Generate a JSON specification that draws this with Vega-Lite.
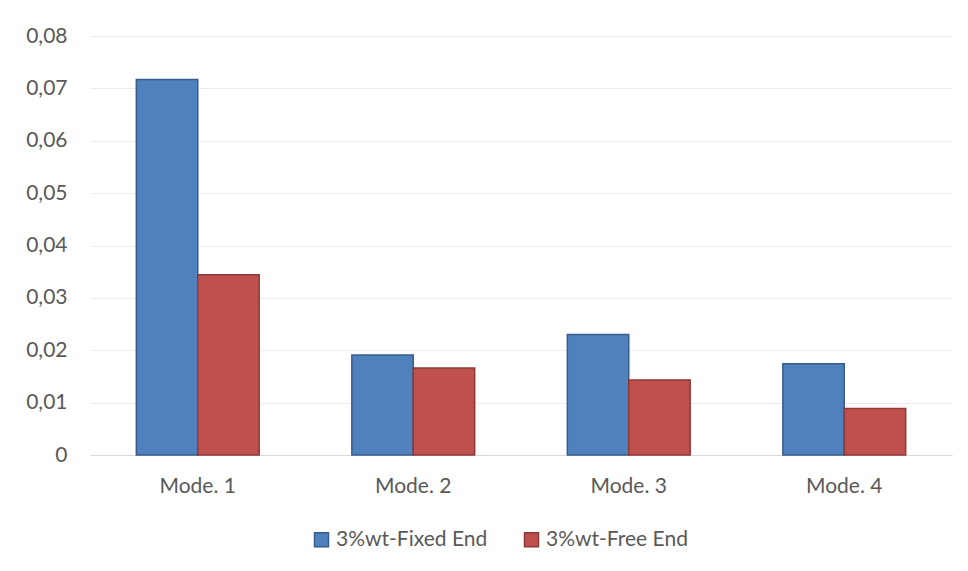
{
  "$schema": "https://vega.github.io/schema/vega-lite/v6.json",
  "autosize": "none",
  "width": 862,
  "height": 419,
  "padding": {"left": 90, "top": 36, "right": 16, "bottom": 116},
  "background": "#ffffff",
  "data": {
    "values": [
      {"mode": "Mode. 1", "series": "3%wt-Fixed End", "value": 0.0717},
      {"mode": "Mode. 1", "series": "3%wt-Free End", "value": 0.0344},
      {"mode": "Mode. 2", "series": "3%wt-Fixed End", "value": 0.0191},
      {"mode": "Mode. 2", "series": "3%wt-Free End", "value": 0.0166},
      {"mode": "Mode. 3", "series": "3%wt-Fixed End", "value": 0.0230},
      {"mode": "Mode. 3", "series": "3%wt-Free End", "value": 0.0143},
      {"mode": "Mode. 4", "series": "3%wt-Fixed End", "value": 0.0174},
      {"mode": "Mode. 4", "series": "3%wt-Free End", "value": 0.0089}
    ]
  },
  "mark": {"type": "bar", "strokeWidth": 1.5},
  "encoding": {
    "x": {
      "field": "mode",
      "type": "nominal",
      "title": null,
      "scale": {"paddingInner": 0.43, "paddingOuter": 0.215},
      "axis": {
        "labelAngle": 0,
        "labelFontSize": 21,
        "labelColor": "#595959",
        "labelPadding": 20,
        "ticks": false,
        "domainColor": "#d9d9d9",
        "domainWidth": 1
      }
    },
    "xOffset": {"field": "series", "type": "nominal"},
    "y": {
      "field": "value",
      "type": "quantitative",
      "title": null,
      "scale": {"domain": [0, 0.08], "nice": false},
      "axis": {
        "values": [0, 0.01, 0.02, 0.03, 0.04, 0.05, 0.06, 0.07, 0.08],
        "labelExpr": "datum.value == 0 ? '0' : replace(format(datum.value, '.2f'), '.', ',')",
        "labelFontSize": 21,
        "labelColor": "#595959",
        "labelPadding": 23,
        "ticks": false,
        "domain": false,
        "gridColor": "#ececec",
        "gridWidth": 1.2
      }
    },
    "color": {
      "field": "series",
      "type": "nominal",
      "title": null,
      "scale": {"domain": ["3%wt-Fixed End", "3%wt-Free End"], "range": ["#4f81bd", "#c0504d"]},
      "legend": {
        "orient": "none",
        "legendX": 221,
        "legendY": 493,
        "direction": "horizontal",
        "symbolType": "square",
        "symbolSize": 196,
        "symbolStrokeWidth": 1.5,
        "labelFontSize": 21,
        "labelColor": "#595959",
        "labelOffset": 4,
        "columnPadding": 33
      }
    },
    "stroke": {
      "field": "series",
      "type": "nominal",
      "scale": {"domain": ["3%wt-Fixed End", "3%wt-Free End"], "range": ["#385d8a", "#8c3836"]},
      "legend": null
    }
  },
  "config": {
    "font": "Lato",
    "view": {"stroke": null},
    "legend": {"symbolFillOpacity": 1}
  }
}
